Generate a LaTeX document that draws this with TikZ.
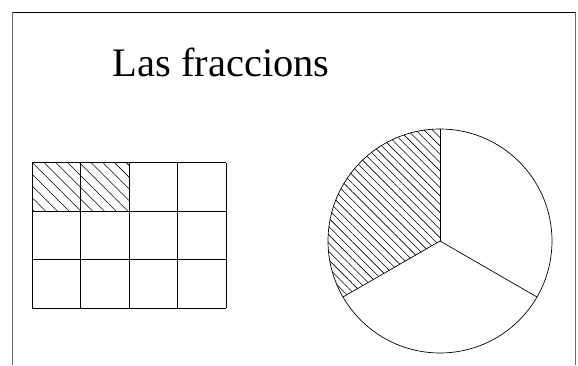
\documentclass[tikz,border=0pt]{standalone}
\usepackage{fontspec}
\setmainfont{Liberation Serif}
\usepackage{tikz}
\usetikzlibrary{patterns.meta}

\begin{document}
\begin{tikzpicture}[x=1pt,y=1pt]
    \useasboundingbox (0,0) rectangle (578,365);
    \draw[semithick] (12,352.5)--(575.5,352.5);
    \draw[black!60,line width=0.9pt] (12,352.5)--(12,0);
    \draw[black!60,line width=1.2pt] (575.5,352.5)--(575.5,0);
    \node[anchor=base west,inner sep=0pt,font=\fontsize{40.5}{48}\selectfont] (title) at (112.5,289) {Las fraccions};
    \fill[pattern={Lines[angle=-45,distance=8.3pt,line width=0.6pt]}] (32,154)rectangle(129,202.5);
    \foreach \i in {0,...,4} \draw[semithick] (32+48.5*\i,57)--(32+48.5*\i,202.5);
    \foreach \j in {0,...,3} \draw[semithick] (32,57+48.5*\j)--(226,57+48.5*\j);
    \coordinate (c) at (440,124);
    \fill[pattern={Lines[angle=-45,distance=5.9pt,line width=0.6pt]}] (c)--++(90:112) arc(90:210:112)--cycle;
    \draw[line width=0.7pt] (c) circle (112);
    \draw[line width=0.7pt] (c)--++(90:112);
    \draw[line width=0.7pt] (c)--++(210:112);
    \draw[line width=0.7pt] (c)--++(-30:112);
  \end{tikzpicture}
\end{document}
